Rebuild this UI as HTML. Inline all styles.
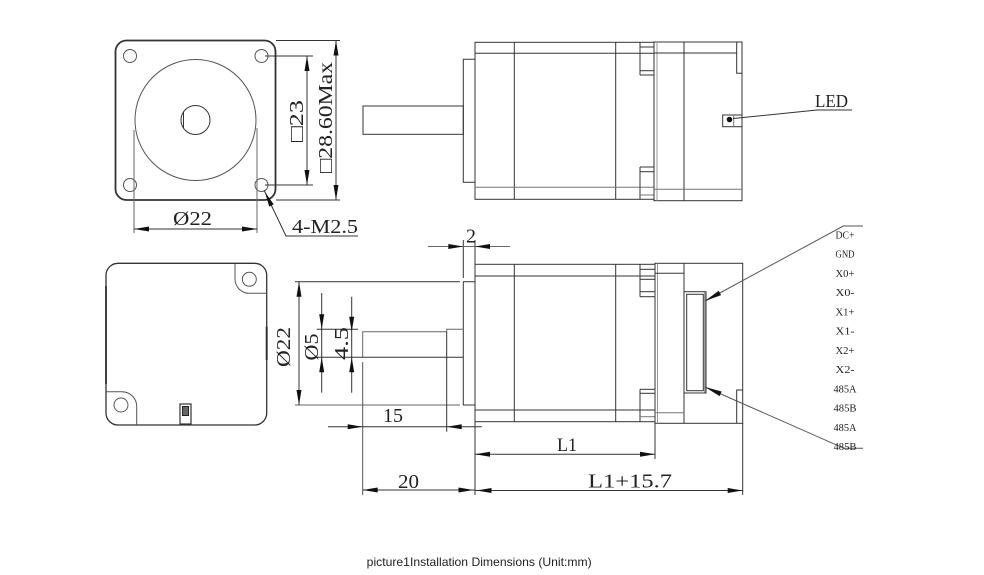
<!DOCTYPE html>
<html>
<head>
<meta charset="utf-8">
<style>
html,body{margin:0;padding:0;background:#fff;}
svg{display:block;}
.t{font-family:"Liberation Serif","DejaVu Serif",serif;fill:#222;}
.p{font-family:"Liberation Serif","DejaVu Serif",serif;fill:#222;font-size:11px;}
.c{font-family:"Liberation Sans","DejaVu Sans",sans-serif;fill:#222;font-size:12px;}
</style>
</head>
<body>
<svg width="984" height="575" viewBox="0 0 984 575" xmlns="http://www.w3.org/2000/svg">
<rect width="984" height="575" fill="#fff"/>
<g fill="none" stroke="#333" stroke-width="1">
  <!-- Top-left front view -->
  <rect x="115.5" y="40.5" width="160" height="159.5" rx="11" stroke-width="1.8"/>
  <circle cx="195.5" cy="120" r="60.5" stroke="#555"/>
  <circle cx="195.5" cy="120" r="14.5"/>
  <line x1="183.5" y1="112" x2="183.5" y2="128"/>
  <circle cx="130" cy="56" r="6.5" stroke="#555"/>
  <circle cx="261.5" cy="56" r="6.5" stroke="#555"/>
  <circle cx="130" cy="185" r="6.5" stroke="#555"/>
  <circle cx="261.5" cy="185" r="6.5" stroke="#555"/>
  <line x1="265" y1="56" x2="313" y2="56"/>
  <line x1="265" y1="185" x2="313" y2="185"/>
  <line x1="307" y1="56" x2="307" y2="185"/>
  <line x1="276" y1="40.5" x2="340" y2="40.5"/>
  <line x1="276" y1="200" x2="340" y2="200"/>
  <line x1="336" y1="40.5" x2="336" y2="200"/>
  <line x1="134" y1="130" x2="134" y2="233" stroke="#666"/>
  <line x1="257" y1="128" x2="257" y2="233" stroke="#666"/>
  <line x1="134" y1="229" x2="257" y2="229"/>
  <polyline points="264,190 286,236 358,236"/>

  <!-- Top side view -->
  <rect x="363" y="106" width="100.3" height="28.3"/>
  <polyline points="475,59.3 463.3,59.3 463.3,182.3 475,182.3"/>
  <rect x="475" y="42.3" width="179" height="157"/>
  <line x1="514.3" y1="42.3" x2="514.3" y2="199.3"/>
  <line x1="615.7" y1="42.3" x2="615.7" y2="199.3"/>
  <line x1="475" y1="53.3" x2="654" y2="53.3"/>
  <line x1="475" y1="187.3" x2="654" y2="187.3" stroke="#777"/>
  <line x1="640" y1="42.3" x2="640" y2="75"/>
  <line x1="640" y1="167" x2="640" y2="199.3"/>
  <line x1="640" y1="47" x2="654" y2="47"/>
  <line x1="640" y1="70.7" x2="654" y2="70.7"/>
  <line x1="640" y1="75" x2="654" y2="75"/>
  <line x1="640" y1="167" x2="654" y2="167"/>
  <line x1="640" y1="171.7" x2="654" y2="171.7"/>
  <line x1="640" y1="195" x2="654" y2="195" stroke="#777"/>
  <rect x="654" y="42" width="88" height="158.7"/>
  <line x1="657" y1="42" x2="657" y2="200.7" stroke="#999"/>
  <line x1="684" y1="42" x2="684" y2="200.7"/>
  <line x1="654" y1="53" x2="737" y2="53"/>
  <line x1="654" y1="189.3" x2="742" y2="189.3" stroke="#777"/>
  <polyline points="736.7,42 736.7,73.3 742,73.3"/>
  <rect x="722.7" y="115" width="19.3" height="11.7"/>
  <line x1="733.7" y1="115" x2="733.7" y2="126.7" stroke="#777"/>
  <polyline points="733,118.5 817,110 852,110"/>

  <!-- Bottom-left rear view -->
  <rect x="106" y="263.3" width="160.7" height="161.7" rx="12" stroke-width="1.3"/>
  <path d="M235,264 V279 A14.3,14.3 0 0 0 249.3,293.3 H266.7" stroke="#555"/>
  <circle cx="249.3" cy="279.3" r="7" stroke="#555"/>
  <path d="M106,391.7 H122 A14.7,14.7 0 0 1 136.7,406.4 V425" stroke="#555"/>
  <circle cx="121" cy="405" r="7" stroke="#555"/>
  <rect x="180" y="404" width="11" height="20" stroke-width="1.2"/>
  <rect x="182.5" y="406.5" width="6" height="9" fill="#666" stroke="#222"/>
  <line x1="266.7" y1="326.7" x2="266.7" y2="360" stroke-width="2"/>
  <line x1="106" y1="286" x2="106" y2="384" stroke-width="1.8"/>

  <!-- Bottom side view -->
  <polyline points="475,281.7 463.3,281.7 463.3,405 475,405"/>
  <line x1="463.3" y1="240" x2="463.3" y2="278"/>
  <line x1="475" y1="240" x2="475" y2="264.3"/>
  <line x1="428" y1="246.5" x2="510" y2="246.5" stroke="#666"/>
  <line x1="295" y1="281.7" x2="460" y2="281.7"/>
  <line x1="295" y1="405" x2="460" y2="405" stroke="#666"/>
  <polyline points="362.7,357.3 362.7,331.7 446.7,331.7 446.7,329.3 463.3,329.3" stroke="#666"/>
  <line x1="316.7" y1="357.3" x2="463.3" y2="357.3"/>
  <line x1="316.7" y1="329.3" x2="358" y2="329.3"/>
  <line x1="446.7" y1="331.7" x2="446.7" y2="431.7"/>
  <line x1="362.7" y1="362" x2="362.7" y2="495" stroke="#555"/>
  <line x1="299" y1="281.7" x2="299" y2="405"/>
  <line x1="321.7" y1="293" x2="321.7" y2="392.7"/>
  <line x1="351.7" y1="296.7" x2="351.7" y2="392.7"/>
  <line x1="328" y1="426.7" x2="481.7" y2="426.7"/>
  <line x1="362.7" y1="490" x2="475" y2="490"/>
  <line x1="475" y1="454.3" x2="655" y2="454.3"/>
  <line x1="475" y1="490.5" x2="742.7" y2="490.5"/>
  <line x1="475" y1="421.7" x2="475" y2="495"/>
  <line x1="655" y1="423" x2="655" y2="459"/>
  <line x1="742.7" y1="423" x2="742.7" y2="495"/>

  <rect x="475" y="264.3" width="180" height="157.4"/>
  <line x1="475" y1="276" x2="655" y2="276"/>
  <line x1="475" y1="410" x2="655" y2="410"/>
  <line x1="514.3" y1="264.3" x2="514.3" y2="421.7"/>
  <line x1="615.7" y1="264.3" x2="615.7" y2="421.7"/>
  <line x1="640" y1="264.3" x2="640" y2="296.7"/>
  <line x1="640" y1="389.3" x2="640" y2="421.7"/>
  <line x1="640" y1="269.3" x2="655" y2="269.3"/>
  <line x1="640" y1="279.3" x2="655" y2="279.3"/>
  <line x1="640" y1="291.7" x2="655" y2="291.7"/>
  <line x1="640" y1="296.7" x2="655" y2="296.7"/>
  <line x1="640" y1="389.3" x2="655" y2="389.3"/>
  <line x1="640" y1="393.3" x2="655" y2="393.3"/>
  <line x1="640" y1="416.7" x2="655" y2="416.7" stroke="#777"/>
  <rect x="655" y="263.3" width="87.7" height="160"/>
  <line x1="657.5" y1="263.3" x2="657.5" y2="423.3" stroke="#999"/>
  <line x1="684" y1="263.3" x2="684" y2="423.3"/>
  <line x1="655" y1="273.3" x2="684" y2="273.3"/>
  <line x1="655" y1="412.7" x2="684" y2="412.7" stroke="#777"/>
  <polyline points="736.7,423.3 736.7,390 742.7,390"/>
  <rect x="684" y="291.7" width="22" height="101.3"/>
  <rect x="686.7" y="294.3" width="16.6" height="96.4"/>
  <line x1="704.8" y1="292" x2="704.8" y2="392.5" stroke="#999" stroke-width="1.5"/>
  <polyline points="705,301 843.3,226 863,226" stroke="#555"/>
  <polyline points="705,387 844,448.3 863,448.3" stroke="#555"/>
</g>

<g fill="#111" stroke="none">
  <circle cx="729.5" cy="119.5" r="2.8"/>
  <polygon points="307,56 304.5,71 309.5,71"/>
  <polygon points="307,185 304.5,170 309.5,170"/>
  <polygon points="336,40.5 333.5,55.5 338.5,55.5"/>
  <polygon points="336,200 333.5,185 338.5,185"/>
  <polygon points="134,229 149,226.5 149,231.5"/>
  <polygon points="257,229 242,226.5 242,231.5"/>
  <polygon points="265,192 273.7,204.4 269.2,206.6"/>

  <polygon points="463.3,246.5 448.3,244 448.3,249"/>
  <polygon points="475,246.5 490,244 490,249"/>
  <polygon points="299,281.7 296.5,296.7 301.5,296.7"/>
  <polygon points="299,405 296.5,390 301.5,390"/>
  <polygon points="321.7,329.3 319.2,314.3 324.2,314.3"/>
  <polygon points="321.7,357.3 319.2,372.3 324.2,372.3"/>
  <polygon points="351.7,331.7 349.2,316.7 354.2,316.7"/>
  <polygon points="351.7,357.3 349.2,372.3 354.2,372.3"/>
  <polygon points="362.7,426.7 347.7,424.2 347.7,429.2"/>
  <polygon points="446.7,426.7 461.7,424.2 461.7,429.2"/>
  <polygon points="362.7,490 377.7,487.5 377.7,492.5"/>
  <polygon points="473.5,490 458.5,487.5 458.5,492.5"/>
  <polygon points="475,454.3 490,451.8 490,456.8"/>
  <polygon points="655,454.3 640,451.8 640,456.8"/>
  <polygon points="476.5,490.5 491.5,488 491.5,493"/>
  <polygon points="742.7,490.5 727.7,488 727.7,493"/>
  <polygon points="705,301 721.1,295.1 718.7,290.7"/>
  <polygon points="705,387 719.6,396.1 721.6,391.5"/>
</g>

<!-- Texts -->
<text class="t" font-size="20" text-anchor="middle" textLength="42" lengthAdjust="spacingAndGlyphs" transform="translate(303,121) rotate(-90)">□23</text>
<text class="t" font-size="20" text-anchor="middle" textLength="111" lengthAdjust="spacingAndGlyphs" transform="translate(332,117.5) rotate(-90)">□28.60Max</text>
<text class="t" font-size="20" x="173" y="225" textLength="39" lengthAdjust="spacingAndGlyphs">Ø22</text>
<text class="t" font-size="20" x="292" y="233" textLength="66" lengthAdjust="spacingAndGlyphs">4-M2.5</text>
<text class="t" font-size="18" x="815" y="107" textLength="33" lengthAdjust="spacingAndGlyphs">LED</text>
<text class="t" font-size="20" x="466" y="242.5">2</text>
<text class="t" font-size="20" text-anchor="middle" textLength="40" lengthAdjust="spacingAndGlyphs" transform="translate(290,347) rotate(-90)">Ø22</text>
<text class="t" font-size="20" text-anchor="middle" textLength="27" lengthAdjust="spacingAndGlyphs" transform="translate(318,347) rotate(-90)">Ø5</text>
<text class="t" font-size="20" text-anchor="middle" textLength="33" lengthAdjust="spacingAndGlyphs" transform="translate(348,343.5) rotate(-90)">4.5</text>
<text class="t" font-size="20" x="383" y="422" textLength="20" lengthAdjust="spacingAndGlyphs">15</text>
<text class="t" font-size="20" x="398" y="488" textLength="21" lengthAdjust="spacingAndGlyphs">20</text>
<text class="t" font-size="19" x="557" y="451" textLength="20" lengthAdjust="spacingAndGlyphs">L1</text>
<text class="t" font-size="20" x="588" y="487.5" textLength="84" lengthAdjust="spacingAndGlyphs">L1+15.7</text>

<text class="p" x="845" y="238.5" text-anchor="middle" textLength="19" lengthAdjust="spacingAndGlyphs">DC+</text>
<text class="p" x="845" y="257.7" text-anchor="middle" textLength="19" lengthAdjust="spacingAndGlyphs">GND</text>
<text class="p" x="845" y="277" text-anchor="middle" textLength="19" lengthAdjust="spacingAndGlyphs">X0+</text>
<text class="p" x="845" y="296.2" text-anchor="middle" textLength="19" lengthAdjust="spacingAndGlyphs">X0-</text>
<text class="p" x="845" y="315.4" text-anchor="middle" textLength="19" lengthAdjust="spacingAndGlyphs">X1+</text>
<text class="p" x="845" y="334.7" text-anchor="middle" textLength="19" lengthAdjust="spacingAndGlyphs">X1-</text>
<text class="p" x="845" y="353.9" text-anchor="middle" textLength="19" lengthAdjust="spacingAndGlyphs">X2+</text>
<text class="p" x="845" y="373.1" text-anchor="middle" textLength="19" lengthAdjust="spacingAndGlyphs">X2-</text>
<text class="p" x="845" y="392.3" text-anchor="middle" textLength="23" lengthAdjust="spacingAndGlyphs">485A</text>
<text class="p" x="845" y="411.6" text-anchor="middle" textLength="23" lengthAdjust="spacingAndGlyphs">485B</text>
<text class="p" x="845" y="430.8" text-anchor="middle" textLength="23" lengthAdjust="spacingAndGlyphs">485A</text>
<text class="p" x="845" y="450" text-anchor="middle" textLength="23" lengthAdjust="spacingAndGlyphs">485B</text>

<text class="c" x="366.7" y="566" textLength="225" lengthAdjust="spacingAndGlyphs">picture1Installation Dimensions (Unit:mm)</text>
</svg>
</body>
</html>
